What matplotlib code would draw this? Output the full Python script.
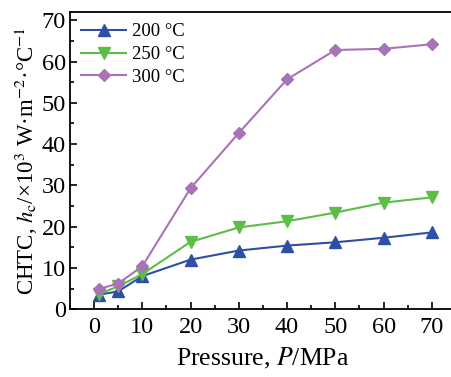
import matplotlib
matplotlib.use("Agg")
import matplotlib.pyplot as plt
from matplotlib.ticker import MultipleLocator

plt.rcParams.update({"font.family": "Liberation Serif", "mathtext.fontset": "stix"})

pressure = [1, 5, 10, 20, 30, 40, 50, 60, 70]
h_200 = [3.5, 4.3, 8.0, 12.0, 14.2, 15.4, 16.2, 17.3, 18.6]
h_250 = [3.7, 5.5, 8.5, 16.3, 19.8, 21.3, 23.4, 25.8, 27.1]
h_300 = [4.9, 6.2, 10.4, 29.3, 42.7, 55.7, 62.8, 63.1, 64.2]
labels = ["200 °C", "250 °C", "300 °C"]

BLUE = "#2d4fa6"
GREEN = "#5cbd47"
PURPLE = "#a874b6"

fig = plt.figure(figsize=(4.51, 3.77), dpi=100)
ax = fig.add_axes([0.155, 0.180, 0.856, 0.788])

ax.plot(pressure, h_200, color=BLUE, marker="^", ms=8, lw=1.5, label=labels[0])
ax.plot(pressure, h_250, color=GREEN, marker="v", ms=8, lw=1.5, label=labels[1])
ax.plot(pressure, h_300, color=PURPLE, marker="D", ms=6.5, lw=1.5, label=labels[2])

ax.set_xlim(-5, 75)
ax.set_ylim(0, 72)
ax.xaxis.set_major_locator(MultipleLocator(10))
ax.xaxis.set_minor_locator(MultipleLocator(5))
ax.yaxis.set_major_locator(MultipleLocator(10))
ax.yaxis.set_minor_locator(MultipleLocator(5))
ax.tick_params(which="both", direction="in", labelsize=17.5, width=1.2)
ax.tick_params(which="major", length=5)
ax.tick_params(which="minor", length=3)
ax.tick_params(axis="x", pad=6)
ax.tick_params(axis="y", pad=3)
for s in ax.spines.values():
    s.set_linewidth(1.3)

ax.set_xlabel("Pressure, $\\it{P}$/MPa", fontsize=18.5, labelpad=5)
ax.set_ylabel("CHTC, $\\it{h}_{\\rm c}$/×10$^3$ W·m$^{-2}$·°C$^{-1}$", fontsize=16.5, labelpad=1)

ax.legend(loc="upper left", frameon=False, fontsize=13.5, handlelength=2.4,
          handletextpad=0.3, labelspacing=0.3, borderaxespad=0.2)

fig.savefig("out.png", dpi=100)
